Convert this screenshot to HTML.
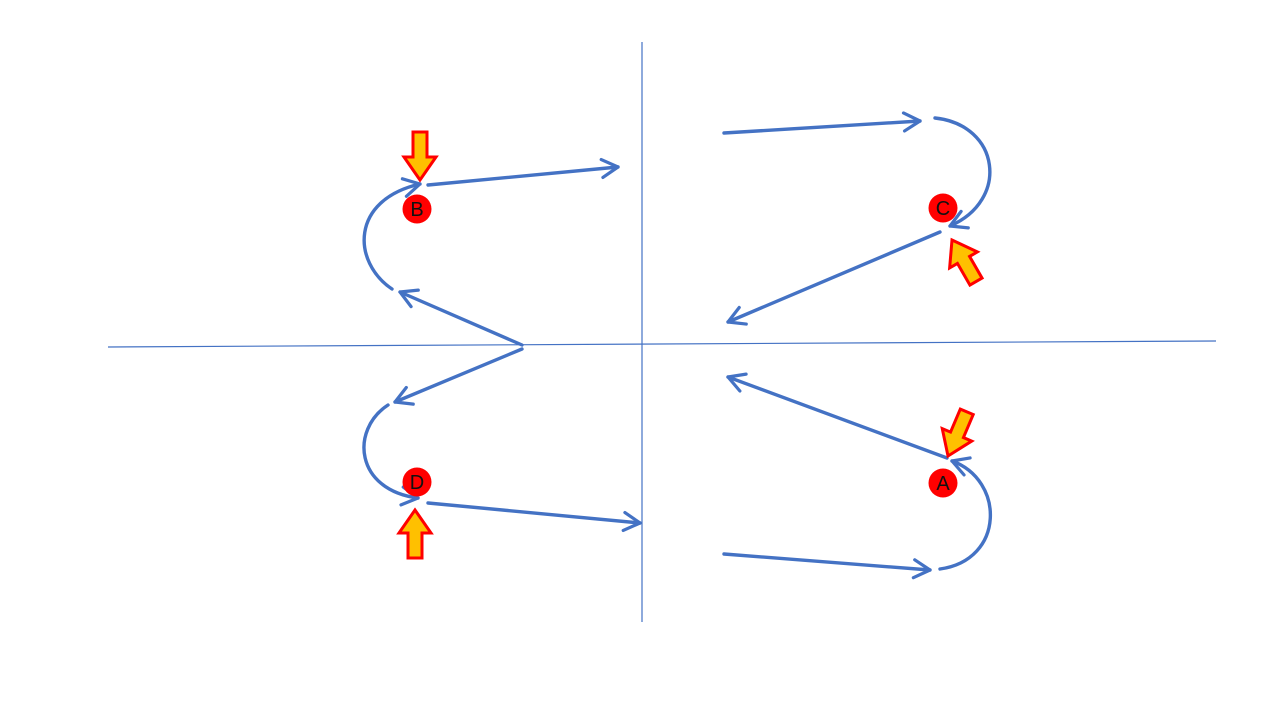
<!DOCTYPE html>
<html><head><style>html,body{margin:0;padding:0;background:#fff;}svg{display:block}</style></head>
<body>
<svg width="1280" height="720" viewBox="0 0 1280 720" xmlns="http://www.w3.org/2000/svg">
<defs>
<marker id="ah" markerUnits="userSpaceOnUse" markerWidth="30" markerHeight="30" refX="22" refY="12" orient="auto" viewBox="0 0 30 24">
<path d="M6,3 L22,12 L6,21" fill="none" stroke="#4472C4" stroke-width="3.2" stroke-linecap="round" stroke-linejoin="round"/>
</marker>
<path id="ba" d="M0,0 L16,-23 L7,-23 L7,-48 L-7,-48 L-7,-23 L-16,-23 Z" transform="scale(1,-1)"/>
</defs>
<line x1="108" y1="347" x2="1216" y2="341" stroke="#4472C4" stroke-width="1.2"/>
<line x1="642" y1="42" x2="642" y2="622" stroke="#4472C4" stroke-width="1.2"/>
<g fill="none" stroke="#4472C4" stroke-width="3.4" stroke-linecap="round" marker-end="url(#ah)">
<path d="M428,185 L618,167"/>
<path d="M392,289 C352,262 350,200 420,184"/>
<path d="M522,345 L400,292"/>
<path d="M522,349 L395,402"/>
<path d="M388,405 C350,430 355,490 418,498"/>
<path d="M428,503 L640,523"/>
<path d="M724,133 L920,121"/>
<path d="M935,118 C1000,125 1010,200 950,226"/>
<path d="M940,232 L728,322"/>
<path d="M947,458 L728,377"/>
<path d="M940,569 C1005,560 1005,480 952,461"/>
<path d="M724,554 L930,570"/>
</g>
<g fill="#FFC000" stroke="#FF0000" stroke-width="3" stroke-linejoin="miter">
<use href="#ba" transform="translate(420,180) rotate(180)"/>
<use href="#ba" transform="translate(415,510)"/>
<use href="#ba" transform="translate(952,240) rotate(-30)"/>
<use href="#ba" transform="translate(948,456) rotate(203)"/>
</g>
<g fill="#FF0000">
<circle cx="417" cy="209" r="14.5"/><circle cx="943" cy="208" r="14.5"/>
<circle cx="417" cy="482" r="14.5"/><circle cx="943" cy="483" r="14.5"/>
</g>
<g font-family="Liberation Sans, sans-serif" font-size="20" fill="#111" text-anchor="middle">
<text x="417" y="216">B</text><text x="943" y="215">C</text>
<text x="417" y="489">D</text><text x="943" y="490">A</text>
</g>
</svg>
</body></html>
